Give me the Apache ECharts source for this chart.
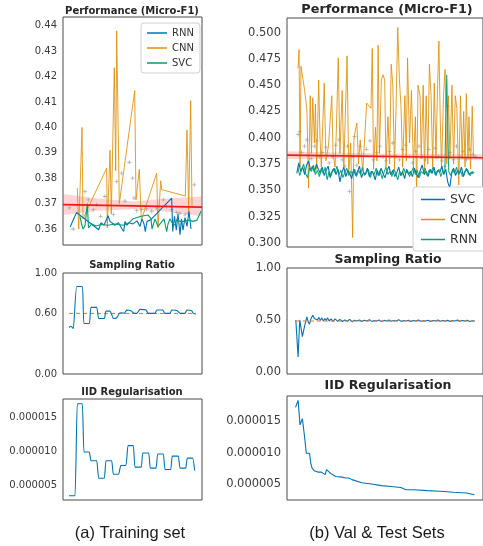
<!DOCTYPE html>
<html>
<head>
<meta charset="utf-8">
<script src="https://cdn.jsdelivr.net/npm/echarts@6/dist/echarts.min.js"></script>
<style>
  html, body { margin: 0; padding: 0; background: #fff; }
  #chart { width: 483px; height: 546px; }
</style>
</head>
<body>
<div id="chart"></div>
<script>
// ---- data (x = horizontal position inside each panel, y = value) ----

// (a) training set, performance
const trainRnn = [[7.3,0.3608],[9,0.3625],[10.7,0.364],[13.5,0.3665],[15,0.366],[35.7,0.3597],[38,0.3625],[41,0.3615],
  [45,0.3652],[47,0.363],[52,0.3615],[55.5,0.3625],[59,0.36],[60.7,0.359],[62,0.363],[64,0.3615],[66,0.3625],[70,0.362],
  [74,0.3632],[77,0.361],[79,0.364],[81,0.362],[82.3,0.359],[84,0.363],[86,0.3635],[87.3,0.3635],[108.7,0.3722],
  [109.7,0.359],[111.5,0.365],[113.3,0.3595],[115,0.366],[117,0.3578],[118.5,0.364],[120,0.3595],[122,0.3645],
  [124,0.361],[126,0.367],[128,0.36]];
const trainCnn = [[14.3,0.3761],[15.7,0.36],[17,0.375],[19,0.4],[20,0.364],[43.7,0.384],[44.3,0.3605],[47,0.391],
  [48.3,0.366],[51.3,0.4235],[52.7,0.383],[53.7,0.438],[56.3,0.37],[71.7,0.4145],[73,0.3715],[76.3,0.3835],
  [78.3,0.3635],[93.7,0.382],[95,0.3605],[97.7,0.379],[98.7,0.3755],[122.3,0.373],[124,0.399],[125.7,0.367],
  [127.7,0.4105],[129,0.3685]];
const trainSvc = [[17,0.365],[18.5,0.362],[20,0.36],[22,0.3612],[24.3,0.37],[25.5,0.3605],[27,0.36],[29,0.362],
  [33,0.3612],[38,0.3618],[45,0.3615],[52,0.362],[60,0.3615],[66,0.3625],[70,0.364],[72,0.3645],[78,0.365],
  [85,0.3655],[88,0.3642],[89,0.36],[92,0.364],[95,0.361],[99,0.363],[101,0.364],[103.7,0.359],[105,0.362],
  [107,0.364],[109,0.3625],[112,0.3615],[114,0.364],[117,0.363],[121,0.363],[126,0.3635],[130,0.363],
  [134,0.3635],[138,0.367]];
const trainRuns = [[6.3,0.3683],[10.3,0.36],[22,0.3748],[25.3,0.3715],[30.3,0.3676],[33.7,0.3696],[37.7,0.365],
  [42,0.3728],[50.3,0.3657],[53.7,0.3787],[58.7,0.382],[62,0.371],[66.3,0.3863],[69.7,0.38],[71,0.3722],
  [73.7,0.3672],[78.7,0.3676],[83.7,0.3679],[88.7,0.367],[93.7,0.3683],[100.3,0.3715],[103.7,0.3688],
  [108.7,0.3676],[113.7,0.3665],[117,0.3662],[122,0.3656],[125.3,0.3662],[131.3,0.3774]];
const trainFit = [[0,0.3696],[139,0.3686]];
const trainBandX = [0, 35, 70, 105, 139];
const trainBandLow = [0.3655, 0.3672, 0.3678, 0.3668, 0.365];
const trainBandHigh = [0.3738, 0.372, 0.3708, 0.372, 0.3728];

// (b) val & test sets, performance
const valSvcStart = 10, valSvcStep = 2;
const valSvc = [0.366,0.376,0.368,0.372,0.365,0.374,0.378,0.369,0.373,0.367,
  0.375,0.370,0.366,0.372,0.364,0.369,0.373,0.362,0.368,0.371,
  0.365,0.370,0.358,0.367,0.372,0.363,0.369,0.366,0.361,0.370,
  0.364,0.368,0.373,0.362,0.367,0.365,0.371,0.363,0.368,0.366,
  0.360,0.369,0.364,0.371,0.366,0.362,0.368,0.373,0.365,0.369,
  0.363,0.367,0.372,0.364,0.368,0.361,0.370,0.365,0.368,0.363,
  0.371,0.366,0.362,0.369,0.374,0.365,0.368,0.363,0.370,0.366,
  0.372,0.364,0.369,0.367,0.373,0.365,0.370,0.358,0.352,0.366,
  0.371,0.364,0.369,0.366,0.372,0.363,0.368,0.370,0.365,0.367,0.366];
const valRnnStart = 11, valRnnStep = 2;
const valRnn = [0.372,0.364,0.370,0.375,0.366,0.362,0.371,0.368,0.374,0.365,
  0.369,0.363,0.371,0.366,0.372,0.360,0.368,0.364,0.370,0.367,
  0.373,0.365,0.369,0.362,0.367,0.371,0.364,0.368,0.366,0.370,
  0.363,0.369,0.365,0.372,0.364,0.367,0.370,0.362,0.368,0.365,
  0.371,0.364,0.369,0.361,0.367,0.372,0.365,0.368,0.363,0.370,
  0.366,0.360,0.368,0.364,0.371,0.366,0.369,0.363,0.367,0.372,
  0.365,0.369,0.362,0.368,0.366,0.371,0.364,0.369,0.367,0.372,
  0.365,0.368,0.370,0.363,0.369,0.366,0.460,0.368,0.364,0.370,
  0.366,0.372,0.365,0.369,0.363,0.367,0.371,0.366,0.364,0.368,0.366];
const valCnn = [[11.3,0.466],[12.3,0.484],[13.3,0.372],[14.3,0.468],[18,0.445],[20.3,0.427],[22,0.352],[23.7,0.44],
  [25,0.385],[26.3,0.438],[28,0.395],[29,0.432],[30.3,0.37],[32.3,0.455],[33.7,0.4],[35,0.372],[38,0.452],
  [39.7,0.378],[42.3,0.392],[45.7,0.44],[47,0.385],[49,0.372],[50.3,0.405],[52.3,0.476],[54,0.385],[56.3,0.445],
  [58,0.372],[61.3,0.478],[63,0.365],[65,0.395],[67,0.305],[68.3,0.4],[71.3,0.414],[73,0.375],[74.7,0.398],
  [77.3,0.368],[81.3,0.433],[85.7,0.428],[87,0.485],[88.3,0.37],[90.3,0.41],[91.7,0.378],[93,0.488],[94.3,0.385],
  [96.3,0.455],[98,0.46],[99.7,0.455],[101,0.372],[103,0.42],[104.7,0.375],[106.3,0.47],[108,0.45],[109.7,0.37],
  [111.3,0.43],[113,0.505],[114.7,0.455],[116.3,0.43],[118,0.372],[120.3,0.44],[121.7,0.378],[123,0.476],
  [125,0.395],[127,0.445],[129,0.372],[131,0.42],[132.3,0.35],[133.7,0.45],[135.7,0.44],[137,0.38],[139,0.45],
  [140.3,0.365],[142,0.44],[143.7,0.375],[145.3,0.47],[147,0.44],[148.7,0.372],[150.3,0.452],[152,0.38],
  [153.7,0.45],[155,0.492],[156.3,0.42],[157.7,0.37],[159.7,0.44],[161.3,0.465],[163,0.375],[164.7,0.44],
  [166.3,0.38],[168.3,0.45],[170,0.375],[171.7,0.44],[173.3,0.428],[175.3,0.355],[177,0.44],[178.7,0.38],
  [180.3,0.425],[181.7,0.372],[183,0.442],[184.7,0.38],[185.7,0.42],[187.3,0.37],[189,0.43],[190.3,0.382]];
const valRuns = [[11.3,0.403],[13,0.406],[14.7,0.386],[18,0.392],[20.3,0.398],[24.7,0.38],[28,0.392],[30.3,0.397],
  [33,0.382],[35.7,0.386],[39.7,0.391],[43,0.376],[46.3,0.382],[49.7,0.393],[53,0.398],[56.3,0.379],[59,0.373],
  [61.7,0.392],[63.7,0.349],[66.3,0.382],[69,0.401],[71.3,0.374],[74.7,0.392],[78,0.382],[81.3,0.389],[84.7,0.397],
  [88,0.379],[91.3,0.386],[94.7,0.392],[98,0.382],[101.3,0.378],[104.7,0.387],[108,0.395],[111.3,0.382],
  [114.7,0.379],[118,0.389],[121.3,0.393],[124.7,0.382],[128,0.376],[131.3,0.387],[134.7,0.392],[138,0.382],
  [141.3,0.379],[144.7,0.389],[148,0.382],[151.3,0.39],[154.7,0.382],[158,0.378],[161.3,0.373],[163.7,0.43],
  [166.3,0.386],[169.7,0.379],[173,0.392],[176.3,0.382],[179.7,0.387],[183,0.379],[186.3,0.389],[189.7,0.384],
  [192.3,0.382]];
const valFit = [[0,0.3835],[200,0.381]];
const valBandX = [0, 100, 200];
const valBandLow = [0.3798, 0.3808, 0.3786];
const valBandHigh = [0.3872, 0.3848, 0.3842];

// sampling ratio
const trainRatio = [[6,0.46],[8,0.473],[10.3,0.45],[13.7,0.867],[19.3,0.867],[21,0.5],[26.3,0.5],[28,0.66],
  [33.7,0.66],[35.7,0.55],[41.3,0.55],[43,0.623],[47,0.623],[48.7,0.59],[50.3,0.55],[53.7,0.557],[56.3,0.6],
  [58.7,0.607],[61.3,0.6],[63.7,0.633],[68,0.627],[71.3,0.6],[73.7,0.6],[77,0.64],[83,0.633],[85.3,0.6],[92,0.6],
  [93.7,0.633],[99.7,0.633],[102,0.6],[107,0.6],[108.7,0.633],[114.3,0.627],[117,0.6],[122,0.6],[123.7,0.633],
  [128.7,0.627],[130.3,0.6],[132.7,0.593]];
const trainRatioTarget = 0.6;
const valRatioHead = [[9,0.5],[10.7,0.495],[11.3,0.145],[12.7,0.145],[13,0.5],[14.7,0.5],[15.7,0.34],[17,0.34],
  [17.7,0.43],[19,0.44],[20.3,0.53],[21.7,0.48],[23,0.46],[24.3,0.51],[26.3,0.545],[28,0.515],[29.5,0.53],
  [31,0.5],[32.5,0.525],[34,0.495],[35.5,0.52],[37,0.49],[38.5,0.515],[40,0.495],[41.5,0.52],[43,0.49],[45,0.51],
  [47,0.485]];
const valRatioTailStart = 49, valRatioTailStep = 2.5;
const valRatioTail = [0.51,0.488,0.505,0.485,0.5,0.49,0.505,0.482,0.498,0.49,
  0.5,0.485,0.497,0.49,0.503,0.486,0.495,0.49,0.5,0.484,
  0.496,0.49,0.5,0.487,0.495,0.49,0.502,0.486,0.494,0.49,
  0.498,0.485,0.495,0.49,0.5,0.487,0.493,0.49,0.497,0.486,
  0.495,0.49,0.499,0.487,0.494,0.49,0.496,0.486,0.495,0.49,
  0.5,0.487,0.494,0.49,0.497,0.486,0.493,0.49];
const valRatioTarget = 0.49;

// IID regularisation (values in units of 1e-6)
const trainIid = [[6,3.4],[12,3.4],[14.3,17.1],[19.3,17.1],[21,9.9],[26.3,9.9],[28,8.6],[33.7,8.6],[35.7,6.0],
  [41.3,6.0],[43,8.6],[48.7,8.6],[50.3,6.6],[55.7,6.6],[57.7,7.9],[63,7.9],[65,10.85],[70.3,10.85],[72,7.65],
  [78.3,7.65],[79.7,9.75],[85.7,9.75],[87.3,7.5],[93,7.5],[94.7,9.6],[100.3,9.6],[102,7.3],[107.7,7.3],
  [109.3,9.3],[115.3,9.3],[117,7.5],[122.7,7.5],[124.3,9.0],[129.7,9.0],[131.7,7.15]];
const valIid = [[8.7,17.2],[10.7,17.2],[11.3,18.3],[13,18.3],[13.3,14.4],[15,14.4],[15.7,15.4],[17,15.4],
  [17.7,12.8],[19,12.7],[19.7,9.9],[23,9.9],[24.3,8.3],[25.7,7.5],[28,7.1],[31.3,6.9],[34.7,6.9],[39,6.5],
  [40.3,7.3],[42.3,7.1],[43.7,6.8],[46.3,6.5],[48.3,6.6],[49.7,6.2],[56.3,6.1],[59.7,5.95],[63,5.95],
  [64.7,6.05],[66.3,5.7],[76.3,5.2],[86.3,5.0],[96.3,4.75],[106.3,4.6],[116.3,4.45],[121.3,4.1],[129.7,4.1],
  [143,3.95],[156.3,3.85],[169.7,3.7],[183,3.58],[191.3,3.3]];

// tick labels
const trainPerfTicks = [0.36, 0.37, 0.38, 0.39, 0.40, 0.41, 0.42, 0.43, 0.44];
const valPerfTicks = [0.300, 0.325, 0.350, 0.375, 0.400, 0.425, 0.450, 0.475, 0.500];
const trainRatioTicks = [0.0, 0.6, 1.0];
const valRatioTicks = [0.0, 0.5, 1.0];
const iidTicks = [5, 10, 15];

// ---- styling ----
const BLUE = '#0173b2', ORANGE = '#de8f05', GREEN = '#029e73';
const FONT = 'DejaVu Sans';
const PLUS = 'path://M4,0H6V4H10V6H6V10H4V6H0V4H4Z';

const chart = echarts.init(document.getElementById('chart'));

const spaced = (start, step, vals) => vals.map((v, i) => [start + i * step, v]);

function yAx(grid, min, max, ticks, fmt, size) {
  return {
    type: 'value', gridIndex: grid, min: min, max: max,
    splitLine: { show: false }, axisLine: { show: false }, axisTick: { show: false },
    axisLabel: { customValues: ticks, formatter: fmt, fontSize: size, color: '#3a3a3a', fontFamily: FONT, margin: 6 }
  };
}
function xAx(grid, max) {
  return { type: 'value', gridIndex: grid, min: 0, max: max, show: false };
}
function line(name, grid, data, color, extra) {
  return Object.assign({
    name: name, type: 'line', xAxisIndex: grid, yAxisIndex: grid, data: data,
    showSymbol: false, symbol: 'none', lineStyle: { color: color, width: 1.1 }, itemStyle: { color: color },
    silent: true, animation: false
  }, extra || {});
}
// confidence band of the fit, drawn as one polygon through the axis scales
function band(grid, xs, lo, hi) {
  return {
    type: 'custom', xAxisIndex: grid, yAxisIndex: grid, silent: true, animation: false,
    data: xs.map((x, i) => [x, lo[i], hi[i]]),
    renderItem: function (params, api) {
      if (params.dataIndex !== 0) return null;
      const pts = [];
      xs.forEach((x, i) => pts.push(api.coord([x, hi[i]])));
      for (let i = xs.length - 1; i >= 0; i--) pts.push(api.coord([xs[i], lo[i]]));
      return { type: 'polygon', shape: { points: pts }, style: { fill: 'rgba(255,110,110,0.3)' } };
    }
  };
}
function runs(grid, data) {
  return {
    type: 'scatter', xAxisIndex: grid, yAxisIndex: grid, data: data, symbol: PLUS, symbolSize: 4,
    itemStyle: { color: '#9a9a9a', opacity: 0.8 }, silent: true, animation: false
  };
}
function refLine(grid, x0, x1, y, color) {
  return line('', grid, [[x0, y], [x1, y]], color, { lineStyle: { color: color, width: 1, type: [4, 3] } });
}

const gridStyle = { show: true, borderColor: '#4a4a4a', borderWidth: 1, backgroundColor: '#fff' };
const f2 = v => v.toFixed(2), f3 = v => v.toFixed(3), fIid = v => (v * 1e-6).toFixed(6);

function title(text, x, y, size) {
  return { type: 'text', x: x, y: y, style: { text: text, textAlign: 'center', textVerticalAlign: 'middle',
    font: 'bold ' + size + 'px "' + FONT + '"', fill: '#262626' } };
}
function caption(text, x, y) {
  return { type: 'text', x: x, y: y, style: { text: text, textAlign: 'center', textVerticalAlign: 'middle',
    font: '16.5px "Liberation Sans"', fill: '#1a1a1a' } };
}

const option = {
  backgroundColor: '#fff',
  animation: false,
  grid: [
    Object.assign({ left: 63, top: 17, width: 139, height: 228 }, gridStyle),
    Object.assign({ left: 63, top: 273, width: 139, height: 101 }, gridStyle),
    Object.assign({ left: 63, top: 399, width: 139, height: 101 }, gridStyle),
    Object.assign({ left: 287, top: 18, width: 200, height: 229 }, gridStyle),
    Object.assign({ left: 287, top: 268, width: 200, height: 106 }, gridStyle),
    Object.assign({ left: 287, top: 396, width: 200, height: 104 }, gridStyle)
  ],
  xAxis: [xAx(0, 139), xAx(1, 139), xAx(2, 139), xAx(3, 200), xAx(4, 200), xAx(5, 200)],
  yAxis: [
    yAx(0, 0.3537, 0.4435, trainPerfTicks, f2, 10),
    yAx(1, 0, 1, trainRatioTicks, f2, 10),
    yAx(2, 2.76, 17.8, iidTicks, fIid, 10),
    yAx(3, 0.296, 0.514, valPerfTicks, f3, 11.5),
    yAx(4, -0.02, 1, valRatioTicks, f2, 11.5),
    yAx(5, 2.46, 19.0, iidTicks, fIid, 11.5)
  ],
  legend: [
    {
      left: 141, top: 23, orient: 'vertical', icon: 'rect', itemWidth: 20, itemHeight: 1.5, itemGap: 5,
      padding: [5, 6, 5, 6], borderColor: '#d0d0d0', borderWidth: 1, borderRadius: 3, backgroundColor: '#fff',
      textStyle: { fontSize: 10, fontFamily: FONT, color: '#333' },
      data: [
        { name: 'RNN', itemStyle: { color: BLUE } },
        { name: 'CNN', itemStyle: { color: ORANGE } },
        { name: 'SVC', itemStyle: { color: GREEN } }
      ]
    },
    {
      left: 413, top: 187, orient: 'vertical', icon: 'rect', itemWidth: 24, itemHeight: 1.5, itemGap: 7,
      padding: [6, 8, 5, 8], borderColor: '#d0d0d0', borderWidth: 1, borderRadius: 3, backgroundColor: '#fff',
      textStyle: { fontSize: 12.5, fontFamily: FONT, color: '#333' },
      data: [
        { name: 'SVC', itemStyle: { color: BLUE } },
        { name: 'CNN', itemStyle: { color: ORANGE } },
        { name: 'RNN', itemStyle: { color: GREEN } }
      ]
    }
  ],
  series: [
    // training performance
    runs(0, trainRuns),
    band(0, trainBandX, trainBandLow, trainBandHigh),
    line('CNN', 0, trainCnn, ORANGE, { lineStyle: { color: ORANGE, width: 1, opacity: 0.85 } }),
    line('RNN', 0, trainRnn, BLUE),
    line('SVC', 0, trainSvc, GREEN),
    line('', 0, trainFit, '#f01818', { lineStyle: { color: '#f01818', width: 1.6 } }),
    // training sampling ratio
    refLine(1, 6, 132.7, trainRatioTarget, '#e0703a'),
    line('', 1, trainRatio, BLUE, { smooth: 0.15 }),
    // training IID
    line('', 2, trainIid, BLUE, { smooth: 0.1 }),
    // val performance
    runs(3, valRuns),
    band(3, valBandX, valBandLow, valBandHigh),
    line('CNN', 3, valCnn, ORANGE, { lineStyle: { color: ORANGE, width: 1, opacity: 0.85 } }),
    line('SVC', 3, spaced(valSvcStart, valSvcStep, valSvc), BLUE),
    line('RNN', 3, spaced(valRnnStart, valRnnStep, valRnn), GREEN, { lineStyle: { color: GREEN, width: 1.1, opacity: 0.9 } }),
    line('', 3, valFit, '#f01818', { lineStyle: { color: '#f01818', width: 1.6 } }),
    // val sampling ratio
    line('', 4, valRatioHead.concat(spaced(valRatioTailStart, valRatioTailStep, valRatioTail)), BLUE),
    refLine(4, 9, 192, valRatioTarget, '#e0703a'),
    // val IID
    line('', 5, valIid, BLUE)
  ],
  graphic: [
    title('Performance (Micro-F1)', 132, 11, 10),
    title('Performance (Micro-F1)', 387, 10, 12.8),
    title('Sampling Ratio', 132, 265, 10),
    title('Sampling Ratio', 388, 260, 12.5),
    title('IID Regularisation', 132, 392, 10),
    title('IID Regularisation', 388, 386, 12.5),
    caption('(a) Training set', 130, 533),
    caption('(b) Val & Test Sets', 377, 533)
  ]
};

chart.setOption(option);
</script>
</body>
</html>
